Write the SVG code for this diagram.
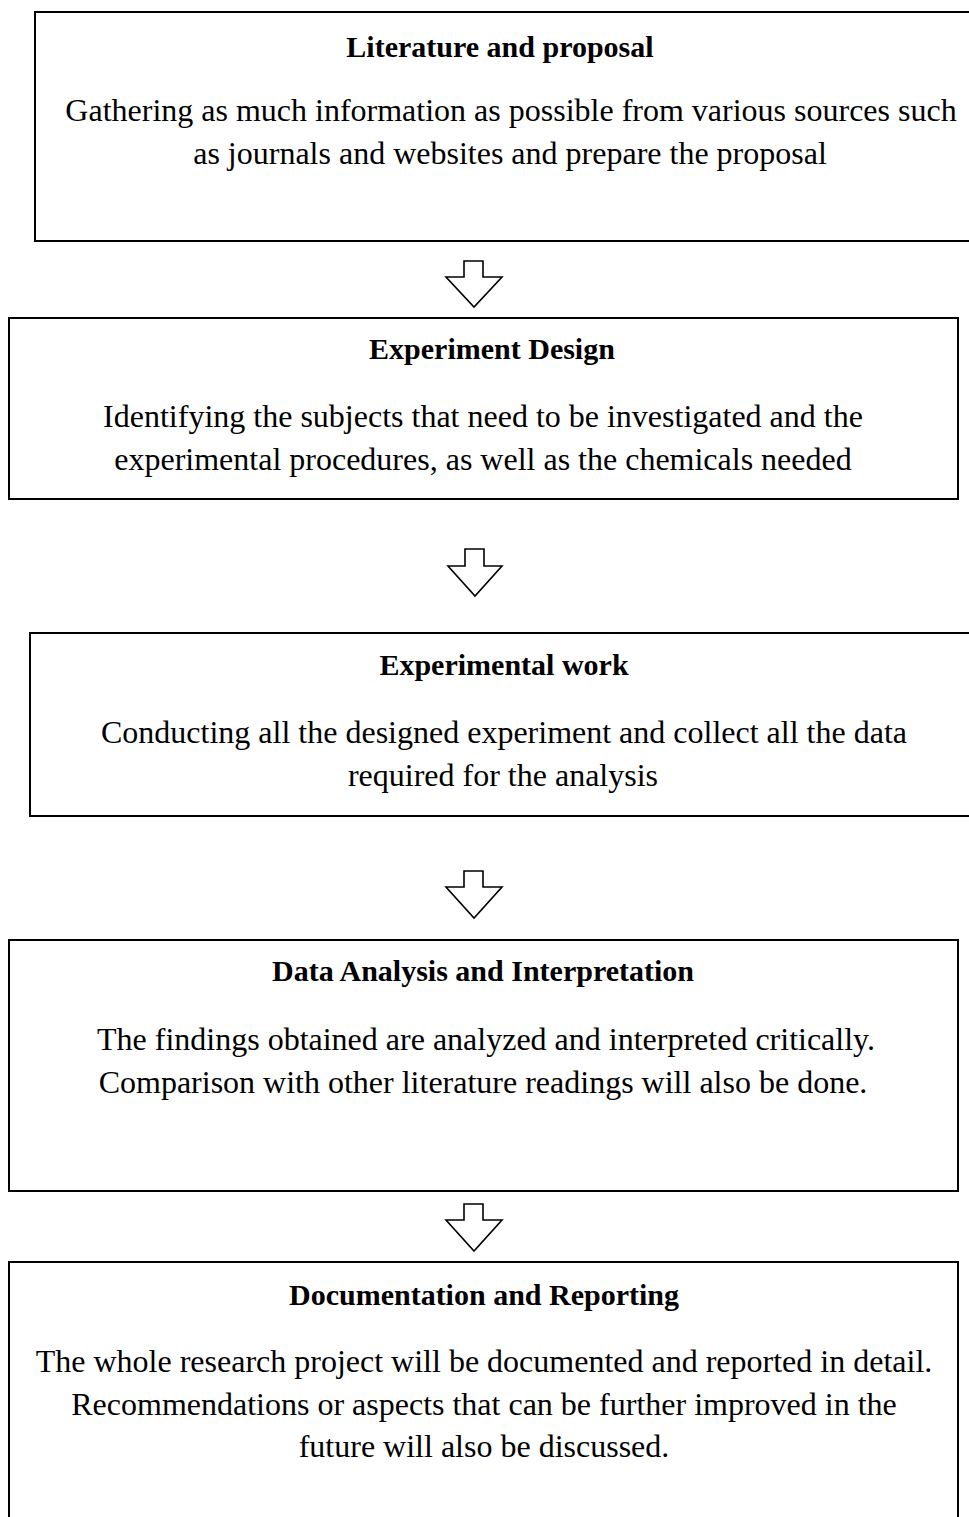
<svg xmlns="http://www.w3.org/2000/svg" width="969" height="1517" viewBox="0 0 969 1517">
<style>
.box{fill:#fff;stroke:#000;stroke-width:2}
.arr{fill:#fff;stroke:#000;stroke-width:1.6;stroke-linejoin:miter}
.t{font-family:"Liberation Serif","Times New Roman",serif;font-weight:bold;font-size:30px;fill:#000;text-anchor:middle}
.b{font-family:"Liberation Serif","Times New Roman",serif;font-size:32px;fill:#000;text-anchor:middle}
</style>
<rect width="969" height="1517" fill="#fff"/>
<g id="node1">
<rect class="box" x="35" y="12" width="950" height="229"/>
<text class="t" x="500" y="57">Literature and proposal</text>
<text class="b" x="511" y="121">Gathering as much information as possible from various sources such</text>
<text class="b" x="510" y="164">as journals and websites and prepare the proposal</text>
</g>
<g id="node2">
<rect class="box" x="9" y="318" width="949" height="181"/>
<text class="t" x="492" y="359">Experiment Design</text>
<text class="b" x="483" y="427">Identifying the subjects that need to be investigated and the</text>
<text class="b" x="483" y="470">experimental procedures, as well as the chemicals needed</text>
</g>
<g id="node3">
<rect class="box" x="30" y="633" width="955" height="183"/>
<text class="t" x="504" y="675">Experimental work</text>
<text class="b" x="504" y="743">Conducting all the designed experiment and collect all the data</text>
<text class="b" x="503" y="786">required for the analysis</text>
</g>
<g id="node4">
<rect class="box" x="9" y="940" width="949" height="251"/>
<text class="t" x="483" y="981">Data Analysis and Interpretation</text>
<text class="b" x="486" y="1050">The findings obtained are analyzed and interpreted critically.</text>
<text class="b" x="483" y="1093">Comparison with other literature readings will also be done.</text>
</g>
<g id="node5">
<rect class="box" x="9" y="1262" width="949" height="280"/>
<text class="t" x="484" y="1305">Documentation and Reporting</text>
<text class="b" x="484" y="1372">The whole research project will be documented and reported in detail.</text>
<text class="b" x="484" y="1415">Recommendations or aspects that can be further improved in the</text>
<text class="b" x="484" y="1457">future will also be discussed.</text>
</g>
<g id="connectors">
<polygon class="arr" points="464,261 483,261 483,277 502,277 474,307 446,277 464,277"/>
<polygon class="arr" points="465,549 484,549 484,566 502,566 475,596 448,566 465,566"/>
<polygon class="arr" points="464,871 483,871 483,887 502,887 474,918 446,887 464,887"/>
<polygon class="arr" points="464,1204 483,1204 483,1220 502,1220 474,1251 446,1220 464,1220"/>
</g>
</svg>
